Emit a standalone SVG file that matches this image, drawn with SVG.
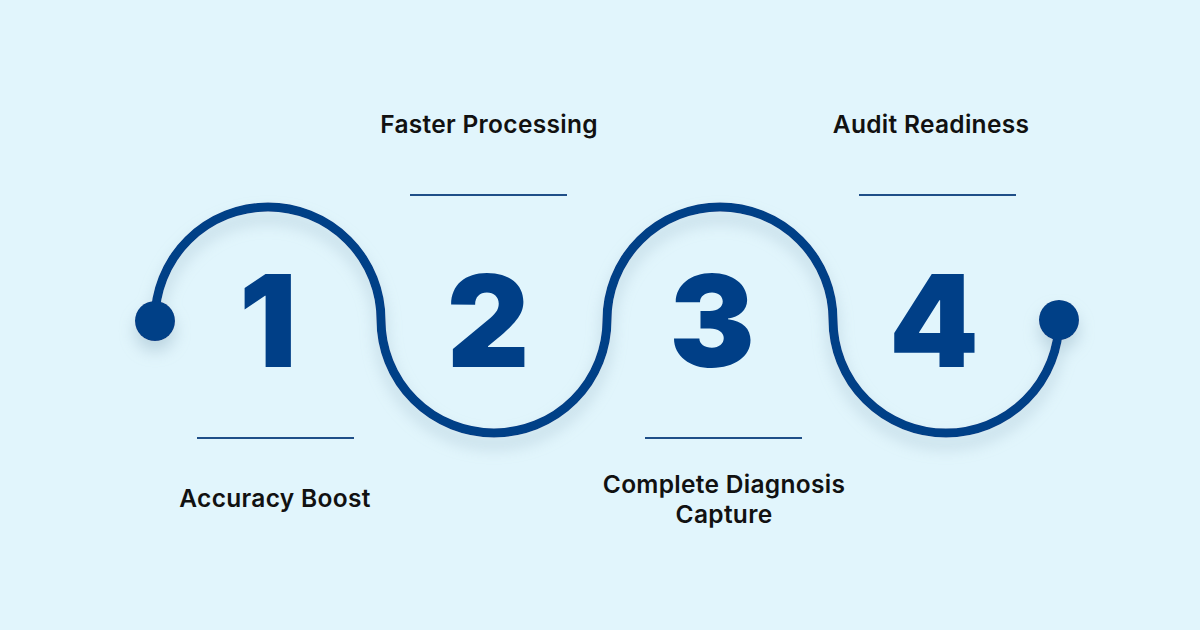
<svg xmlns="http://www.w3.org/2000/svg" width="1200" height="630" viewBox="0 0 1200 630">
<style>
.lbl{font-family:Inter,"Liberation Sans",sans-serif;font-weight:600;font-size:24.5px;letter-spacing:0.3px;fill:#111;text-anchor:middle}
.num{font-family:Inter,"Liberation Sans",sans-serif;font-weight:900;font-size:128px;fill:#003F87;text-anchor:middle}
.rule{stroke:#1F4F88;stroke-width:2.2}
</style>
<defs>
<filter id="sh" x="-10%" y="-20%" width="120%" height="150%">
<feDropShadow dx="0" dy="10" stdDeviation="8" flood-color="#8FAFC0" flood-opacity="0.45"/>
</filter>
</defs>
<rect width="1200" height="630" fill="#E1F5FC"/>
<g id="connectors" filter="url(#sh)">
<path d="M155,320 A113,113 0 0 1 381,320 A113,113 0 0 0 607,320 A113,113 0 0 1 833,320 A113,113 0 0 0 1059,320" fill="none" stroke="#003F87" stroke-width="9"/>
<circle cx="155" cy="321" r="20" fill="#003F87"/>
<circle cx="1059" cy="320" r="20" fill="#003F87"/>
</g>
<g id="step1">
<text class="num" x="268" y="367">1</text>
<line class="rule" x1="197" y1="438" x2="354" y2="438"/>
<text class="lbl" x="275" y="507">Accuracy Boost</text>
</g>
<g id="step2">
<text class="num" x="488" y="367">2</text>
<line class="rule" x1="410" y1="195" x2="567" y2="195"/>
<text class="lbl" x="489" y="133">Faster Processing</text>
</g>
<g id="step3">
<text class="num" x="712" y="367">3</text>
<line class="rule" x1="645" y1="438" x2="802" y2="438"/>
<text class="lbl" x="724" y="493">Complete Diagnosis</text>
<text class="lbl" x="724" y="523">Capture</text>
</g>
<g id="step4">
<text class="num" x="934" y="367">4</text>
<line class="rule" x1="859" y1="195" x2="1016" y2="195"/>
<text class="lbl" x="931" y="133">Audit Readiness</text>
</g>
</svg>
